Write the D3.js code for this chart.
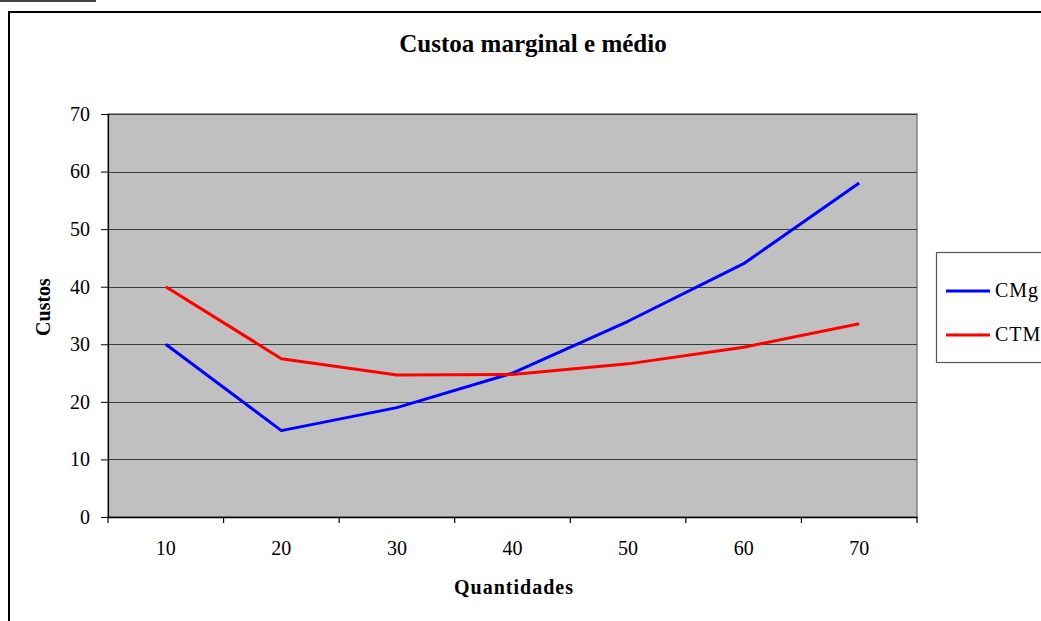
<!DOCTYPE html>
<html>
<head>
<meta charset="utf-8">
<script src="https://cdn.jsdelivr.net/npm/d3@7"></script>
<style>
  body { margin: 0; background: #fff; }
  svg text { font-family: "Liberation Serif", "Times New Roman", serif; }
</style>
</head>
<body>
<svg width="1041" height="621"></svg>
<script>
// data
var quantidades = ["10", "20", "30", "40", "50", "60", "70"];
var cmg = [30, 15, 19, 25, 34, 44, 58];
var ctm = [40, 27.5, 24.67, 24.75, 26.6, 29.5, 33.57];
var yTicks = [0, 10, 20, 30, 40, 50, 60, 70];
var seriesNames = ["CMg", "CTM"];
var seriesColors = ["#0000ff", "#ff0000"];

var svg = d3.select("svg"),
    plot = {left: 108, top: 114, right: 917, bottom: 517};

// fragment of the page line above the chart
svg.append("line").attr("x1", 0).attr("x2", 96).attr("y1", 1).attr("y2", 1)
    .attr("stroke", "#000").attr("stroke-width", 1.5);

// outer chart frame (runs off the page right and bottom)
svg.append("rect")
    .attr("x", 9).attr("y", 12).attr("width", 1100).attr("height", 700)
    .attr("fill", "#fff").attr("stroke", "#000").attr("stroke-width", 2);

var x = d3.scaleBand().domain(quantidades).range([plot.left, plot.right]);
var y = d3.scaleLinear().domain([0, 70]).range([plot.bottom, plot.top]);

// grey plot area
svg.append("rect")
    .attr("x", plot.left).attr("y", plot.top)
    .attr("width", plot.right - plot.left).attr("height", plot.bottom - plot.top)
    .attr("fill", "#c0c0c0").attr("stroke", "#808080").attr("stroke-width", 1.5);

// gridlines
svg.append("g").selectAll("line")
    .data(yTicks.slice(1))
    .enter().append("line")
      .attr("x1", plot.left).attr("x2", plot.right)
      .attr("y1", function(d) { return Math.round(y(d)) + 0.5; })
      .attr("y2", function(d) { return Math.round(y(d)) + 0.5; })
      .attr("stroke", "#3a3a3a").attr("stroke-width", 1.2);

// y axis
var yAxis = svg.append("g")
    .attr("transform", "translate(" + plot.left + ",0)")
    .call(d3.axisLeft(y).tickValues(yTicks).tickSize(7).tickPadding(11));
yAxis.select(".domain").attr("stroke", "#000").attr("stroke-width", 1.2);
yAxis.selectAll(".tick line").attr("stroke", "#000");
yAxis.selectAll("text").attr("font-size", 20).attr("fill", "#000")
    .attr("font-family", "Liberation Serif");

// x axis: ticks at the band edges, labels in the middle
var xAxis = svg.append("g")
    .attr("transform", "translate(0," + plot.bottom + ")")
    .call(d3.axisBottom(x).tickSize(0).tickPadding(24));
xAxis.select(".domain").attr("stroke", "#000").attr("stroke-width", 1.5);
xAxis.selectAll("text").attr("font-size", 20).attr("fill", "#000")
    .attr("font-family", "Liberation Serif");
xAxis.selectAll(".edge")
    .data(d3.range(quantidades.length + 1))
    .enter().append("line")
      .attr("class", "edge")
      .attr("x1", function(i) { return plot.left + i * x.step(); })
      .attr("x2", function(i) { return plot.left + i * x.step(); })
      .attr("y1", 0).attr("y2", 6)
      .attr("stroke", "#000").attr("stroke-width", 1.2);

// lines
var line = d3.line()
    .x(function(d, i) { return x(quantidades[i]) + x.bandwidth() / 2; })
    .y(function(d) { return y(d); });

[cmg, ctm].forEach(function(s, k) {
  svg.append("path")
      .datum(s)
      .attr("fill", "none")
      .attr("stroke", seriesColors[k])
      .attr("stroke-width", 3)
      .attr("stroke-linejoin", "round")
      .attr("d", line);
});

// titles
svg.append("text")
    .attr("x", 533).attr("y", 52)
    .attr("text-anchor", "middle")
    .attr("font-size", 25).attr("font-weight", "bold")
    .text("Custoa marginal e médio");

svg.append("text")
    .attr("transform", "translate(50,307) rotate(-90)")
    .attr("text-anchor", "middle")
    .attr("font-size", 20).attr("font-weight", "bold")
    .text("Custos");

svg.append("text")
    .attr("x", 514).attr("y", 594)
    .attr("text-anchor", "middle")
    .attr("font-size", 20).attr("font-weight", "bold")
    .attr("letter-spacing", 1)
    .text("Quantidades");

// legend
var legend = svg.append("g");
legend.append("rect")
    .attr("x", 936.5).attr("y", 252.5).attr("width", 200).attr("height", 110)
    .attr("fill", "#fff").attr("stroke", "#555").attr("stroke-width", 1.2);

var item = legend.selectAll(".item")
    .data(seriesNames)
    .enter().append("g")
      .attr("class", "item")
      .attr("transform", function(d, i) { return "translate(0," + (291 + i * 44) + ")"; });
item.append("line")
    .attr("x1", 946).attr("x2", 990)
    .attr("stroke", function(d, i) { return seriesColors[i]; })
    .attr("stroke-width", 3);
item.append("text")
    .attr("x", 995).attr("y", 6)
    .attr("font-size", 20)
    .attr("letter-spacing", 1)
    .text(function(d) { return d; });
</script>
</body>
</html>
